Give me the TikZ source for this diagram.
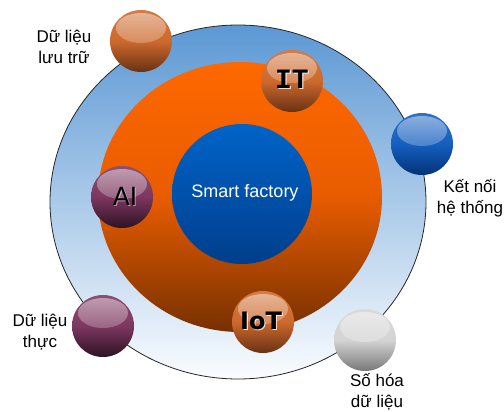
\documentclass[tikz,border=0pt]{standalone}
\usepackage{fontspec}
\setmainfont{Liberation Sans}
\newfontfamily\itfont{Liberation Mono}
\newfontfamily\dvfont{DejaVu Sans}
\usetikzlibrary{calc,shapes.geometric}
\definecolor{ringtop}{RGB}{92,152,212}
\definecolor{ringbot}{RGB}{250,252,255}
\definecolor{ortop}{RGB}{255,104,0}
\definecolor{ormid}{RGB}{232,92,0}
\definecolor{orbot}{RGB}{118,48,0}
\definecolor{bltop}{RGB}{0,100,200}
\definecolor{blbot}{RGB}{0,62,140}
\definecolor{sorange}{RGB}{205,105,45}
\definecolor{sorangeD}{RGB}{105,50,20}
\definecolor{sblue}{RGB}{20,95,190}
\definecolor{sblueD}{RGB}{5,50,120}
\definecolor{spurple}{RGB}{125,55,95}
\definecolor{spurpleD}{RGB}{45,18,35}
\definecolor{sgrey}{RGB}{212,212,212}
\definecolor{sgreyD}{RGB}{120,120,120}
\begin{document}
\begin{tikzpicture}[x=1pt,y=-1pt,
  ball/.style 2 args={circle, minimum size=62pt, inner sep=0pt,
    top color=#1!88!white, bottom color=#2, middle color=#1,
    path picture={\shade[top color=white!70!#1, bottom color=#1, opacity=0.7]
      ($(path picture bounding box.center)+(0pt,13pt)$) ellipse [x radius=25pt, y radius=15pt];}},
  lbl/.style={align=center, font=\fontsize{17}{21}\selectfont, text=black},
  shadowtxt/.style={text=white, opacity=0.8}]
\useasboundingbox (0,0) rectangle (504,412);
% big discs
\node[ellipse, minimum width=376pt, minimum height=354pt, inner sep=0pt, draw=black!85, line width=0.8pt,
  top color=ringtop, bottom color=ringbot] (ring) at (238,202) {};
\node[ellipse, minimum width=284pt, minimum height=270pt, inner sep=0pt,
  top color=ortop, bottom color=orbot, middle color=ormid] (orange) at (240,197) {};
\node[circle, minimum size=140pt, inner sep=0pt, top color=bltop, bottom color=blbot] (core) at (242,194) {};
\node[text=white, font=\fontsize{18}{20}\selectfont] (sf) at (245,193) {Smart factory};
% spheres
\node[ball={sorange}{sorangeD}] (s1) at (141,41) {};
\node[ball={sorange}{sorangeD}] (sit) at (292,81) {};
\node[ball={sblue}{sblueD}] (s2) at (422,144) {};
\node[ball={spurple}{spurpleD}] (sai) at (122,197) {};
\node[ball={spurple}{spurpleD}] (s3) at (103,326) {};
\node[ball={sorange}{sorangeD}] (siot) at (263,322) {};
\node[ball={sgrey}{sgreyD}] (s4) at (365,340) {};
% sphere texts
\node[shadowtxt, font=\itfont\bfseries\fontsize{28}{28}\selectfont] (itsh) at (293.2,80.2) {IT};
\node[font=\itfont\bfseries\fontsize{28}{28}\selectfont] (it) at (292,79) {IT};
\node[shadowtxt, font=\dvfont\bfseries\fontsize{24}{26}\selectfont] (iotsh) at (262.2,322.2) {IoT};
\node[font=\dvfont\bfseries\fontsize{24}{26}\selectfont] (iot) at (261,321) {IoT};
\node[shadowtxt, opacity=0.5, font=\dvfont\fontsize{25}{27}\selectfont] (aish) at (126,197) {AI};
\node[font=\dvfont\fontsize{25}{27}\selectfont] (ai) at (125,196) {AI};
% labels
\node[lbl] (l1) at (64,47) {Dữ liệu\\lưu trữ};
\node[lbl] (l2) at (470,198) {Kết nối\\hệ thống};
\node[lbl] (l3) at (40,332) {Dữ liệu\\thực};
\node[lbl] (l4) at (377,392) {Số hóa\\dữ liệu};
\end{tikzpicture}
\end{document}
